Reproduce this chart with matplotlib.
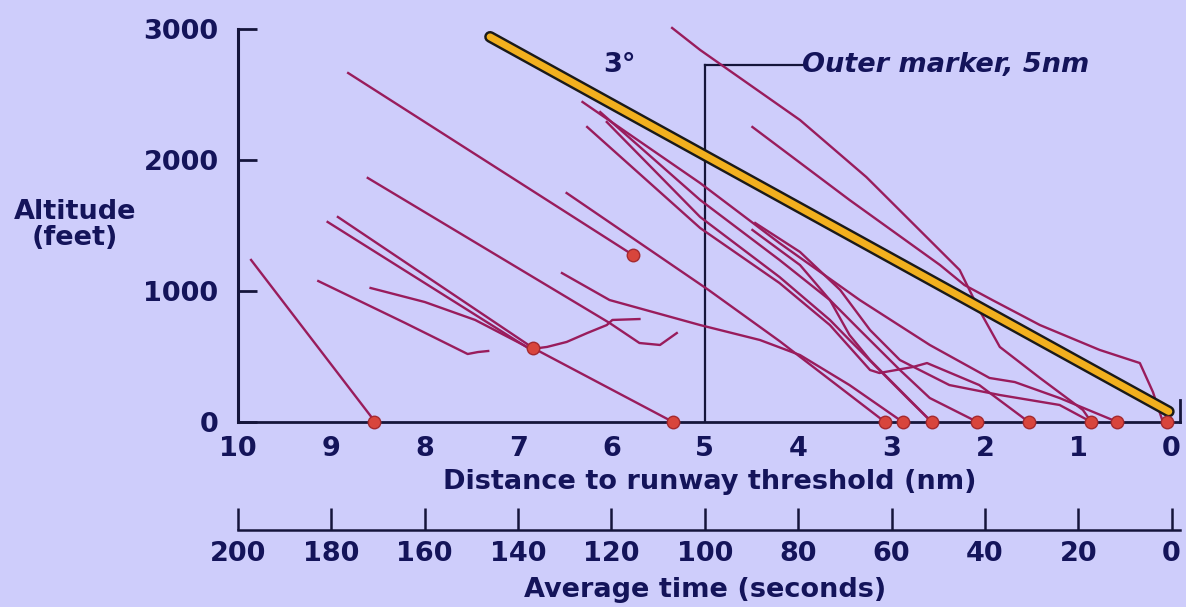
import matplotlib
matplotlib.use('Agg')
import matplotlib.pyplot as plt
import matplotlib.patheffects as pe

# ---------------- data (distance in nm, altitude in feet) ----------------
dist_ticks = [10, 9, 8, 7, 6, 5, 4, 3, 2, 1, 0]
time_ticks = [200, 180, 160, 140, 120, 100, 80, 60, 40, 20, 0]
alt_ticks = [0, 1000, 2000, 3000]

glide_dist = [7.30, 0.03]
glide_alt = [2940, 80]

outer_marker_dist = 5.0
outer_marker_top = 2725
outer_marker_label_end = 3.93

l1_d = [9.86, 8.53]
l1_a = [1237, 0]
l2_d = [9.14, 8.21, 7.54, 7.43, 7.32]
l2_a = [1076, 756, 519, 534, 542]
l3_d = [8.58, 8.00, 7.46, 6.86, 6.69, 6.48, 6.26, 6.05, 5.99, 5.70]
l3_a = [1023, 916, 779, 557, 573, 611, 679, 740, 779, 786]
l4_d = [8.93, 6.84, 5.34]
l4_a = [1565, 565, 0]
l5_d = [9.04, 6.86]
l5_a = [1527, 550]
l6_d = [8.61, 6.02, 5.70, 5.48, 5.30]
l6_a = [1863, 756, 603, 588, 679]
l7_d = [8.82, 5.77]
l7_a = [2664, 1275]
l8_d = [6.48, 4.96, 4.20, 3.07]
l8_a = [1748, 1008, 618, 0]
l9_d = [6.53, 6.02, 5.05, 4.41, 3.98, 3.45, 2.88]
l9_a = [1137, 931, 740, 626, 511, 282, 0]
la_d = [5.35, 5.05, 3.98, 3.27, 2.27, 2.06, 1.84, 1.41, 0.95, 0.86]
la_a = [3008, 2840, 2305, 1870, 1160, 855, 573, 336, 92, 0]
lb_d = [4.49, 3.45, 2.48, 2.22, 1.92, 1.41, 0.77, 0.34, 0.20, 0.10]
lb_a = [2252, 1695, 1198, 1046, 931, 740, 550, 450, 229, 15]
lc_d = [6.31, 5.05, 4.20, 3.34, 2.59, 1.95, 1.68, 1.20, 0.58]
lc_a = [2443, 1824, 1366, 931, 588, 336, 305, 183, 0]
ld_d = [6.12, 5.05, 4.20, 3.66, 3.34, 2.91, 2.59, 2.08]
ld_a = [2366, 1695, 1237, 931, 702, 397, 183, 0]
le_d = [6.05, 5.05, 4.20, 3.66, 3.45, 3.13, 2.81, 2.57]
le_a = [2290, 1565, 1107, 779, 626, 397, 168, 0]
lf_d = [6.26, 5.05, 4.20, 3.66, 3.23, 3.13, 2.77, 2.62, 2.06, 1.53]
lf_a = [2252, 1481, 1061, 740, 397, 374, 420, 450, 282, 0]
lg_d = [4.46, 3.98, 3.55, 3.23, 2.91, 2.38, 1.84, 1.20, 0.86]
lg_a = [1519, 1298, 1008, 702, 473, 282, 206, 130, 0]
lh_d = [4.49, 3.98, 3.66, 3.45, 3.23, 2.91, 2.57]
lh_a = [1466, 1198, 931, 664, 473, 244, 0]

dot_d = [8.54, 6.84, 5.77, 5.34, 3.07, 2.88, 2.57, 2.08, 1.53, 0.86, 0.58, 0.05]
dot_a = [0, 565, 1275, 0, 0, 0, 0, 0, 0, 0, 0, 0]

# ---------------- styling ----------------
BG = '#cecdfb'
NAVY = '#14145a'
AXC = '#15153a'
TRACK = '#991c5c'
W, H = 1186, 607

plt.rcParams['font.family'] = ['DejaVu Sans']
plt.rcParams['font.weight'] = 'bold'

fig = plt.figure(figsize=(W / 100, H / 100), dpi=100, facecolor=BG)
ax = fig.add_axes([238 / W, 185 / H, (1180 - 238) / W, (578 - 185) / H])
ax.set_facecolor(BG)
ax.set_xlim(10, -0.09)
ax.set_ylim(0, 3000)

tracks = [(l1_d, l1_a), (l2_d, l2_a), (l3_d, l3_a), (l4_d, l4_a), (l5_d, l5_a),
          (l6_d, l6_a), (l7_d, l7_a), (l8_d, l8_a), (l9_d, l9_a), (la_d, la_a),
          (lb_d, lb_a), (lc_d, lc_a), (ld_d, ld_a), (le_d, le_a), (lf_d, lf_a),
          (lg_d, lg_a), (lh_d, lh_a)]
for d, a in tracks:
    ax.plot(d, a, color=TRACK, lw=1.7, clip_on=False, zorder=3,
            solid_joinstyle='round')

ax.plot(glide_dist, glide_alt, color='#f2b01e', lw=5, clip_on=False, zorder=4,
        solid_capstyle='round',
        path_effects=[pe.Stroke(linewidth=8.5, foreground='#1a1a1a'), pe.Normal()])

ax.plot([outer_marker_dist, outer_marker_dist], [0, outer_marker_top],
        color=AXC, lw=1.6, zorder=2)
ax.plot([outer_marker_dist, outer_marker_label_end],
        [outer_marker_top, outer_marker_top], color=AXC, lw=1.6, zorder=2)
ax.text(outer_marker_label_end + 0.03, outer_marker_top, 'Outer marker, 5nm',
        ha='left', va='center', fontsize=19.5, style='italic',
        fontweight='bold', color=NAVY)
ax.text(5.91, 2725, '3°', ha='center', va='center', fontsize=19.5,
        fontweight='bold', color=NAVY)

ax.plot(dot_d, dot_a, 'o', ms=9, mfc='#d8453c', mec='#a42a30', mew=1,
        clip_on=False, zorder=6, linestyle='none')

for s in ['top']:
    ax.spines[s].set_visible(False)
ax.spines['left'].set_color(AXC)
ax.spines['left'].set_linewidth(2.2)
ax.spines['bottom'].set_color(AXC)
ax.spines['bottom'].set_linewidth(2.0)
ax.spines['right'].set_color(AXC)
ax.spines['right'].set_linewidth(2.0)
ax.spines['right'].set_bounds(0, 170)

ax.set_yticks(alt_ticks)
ax.set_yticklabels([str(v) for v in alt_ticks])
ax.tick_params(axis='y', direction='in', length=14, width=2, color=AXC,
               pad=14, labelsize=19.5, labelcolor=NAVY)
ax.set_xticks(dist_ticks)
ax.set_xticklabels([str(v) for v in dist_ticks])
ax.tick_params(axis='x', length=0, pad=10, labelsize=19.5, labelcolor=NAVY)
for lab in ax.get_xticklabels() + ax.get_yticklabels():
    lab.set_fontweight('bold')

# time axis
ax2 = fig.add_axes([238 / W, 77 / H, (1180 - 238) / W, 0.04])
ax2.set_facecolor('none')
ax2.set_xlim(200, -1.8)
for s in ['top', 'left', 'right']:
    ax2.spines[s].set_visible(False)
ax2.spines['bottom'].set_color(AXC)
ax2.spines['bottom'].set_linewidth(1.8)
ax2.set_yticks([])
ax2.set_xticks(time_ticks)
ax2.set_xticklabels([str(v) for v in time_ticks])
ax2.tick_params(axis='x', direction='in', length=16, width=1.8, color=AXC,
                pad=8, labelsize=19.5, labelcolor=NAVY)
for lab in ax2.get_xticklabels():
    lab.set_fontweight('bold')

fig.text(710 / W, 1 - 482 / H, 'Distance to runway threshold (nm)', ha='center',
         va='center', fontsize=19.5, fontweight='bold', color=NAVY)
fig.text(705 / W, 1 - 590 / H, 'Average time (seconds)', ha='center',
         va='center', fontsize=19.5, fontweight='bold', color=NAVY)
fig.text(75 / W, 1 - 225 / H, 'Altitude\n(feet)', ha='center', va='center',
         fontsize=19.5, fontweight='bold', color=NAVY, linespacing=1.0,
         multialignment='center')

fig.savefig('out.png', dpi=100, facecolor=BG)
